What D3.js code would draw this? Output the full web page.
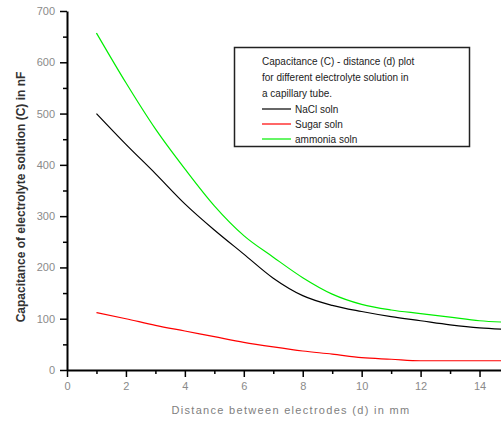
<!DOCTYPE html>
<html>
<head>
<meta charset="utf-8">
<script src="https://cdn.jsdelivr.net/npm/d3@7"></script>
<style>
  html, body { margin: 0; padding: 0; background: #fff; }
  svg { display: block; overflow: hidden; }
  text { font-family: "Liberation Sans", Arial, sans-serif; }
</style>
</head>
<body>
<div id="chart"></div>
<script>
// distance (d) in mm
const distance = [1, 2, 3, 4, 5, 6, 7, 8, 9, 10, 11, 12, 13, 14, 15];
// capacitance in nF
const nacl    = [500, 440, 383, 324, 273, 226, 179, 145, 126, 114, 104, 96, 88, 82, 79];
const sugar   = [112, 100, 87, 76, 65, 54, 45, 37, 31, 24, 21, 18, 18, 18, 18];
const ammonia = [657, 560, 470, 392, 320, 262, 220, 180, 148, 128, 117, 110, 103, 96, 93];

const seriesNames = ["NaCl soln", "Sugar soln", "ammonia soln"];
const seriesColors = ["#000000", "#ff0000", "#00ee00"];
const legendTitle = ["Capacitance (C) - distance (d) plot",
                     "for different electrolyte solution in",
                     "a capillary tube."];

const xTicks = [0, 2, 4, 6, 8, 10, 12, 14];
const yTicks = [0, 100, 200, 300, 400, 500, 600, 700];

const width = 501, height = 421;
const margin = {top: 11, left: 67, bottom: 51};

const svg = d3.select("#chart").append("svg")
    .attr("width", width)
    .attr("height", height);

// the plot runs to d = 15, a bit past the right edge of the picture
const x = d3.scaleLinear().domain([0, 15]).range([margin.left, 509]);
const y = d3.scaleLinear().domain([0, 700]).range([height - margin.bottom, margin.top]);

const line = d3.line()
    .x(d => x(d[0]))
    .y(d => y(d[1]))
    .curve(d3.curveMonotoneX);

const allSeries = [nacl, sugar, ammonia];

svg.append("g")
  .selectAll("path")
  .data(allSeries)
  .enter().append("path")
    .attr("d", vals => line(vals.map((v, i) => [distance[i], v])))
    .attr("fill", "none")
    .attr("stroke", (d, i) => seriesColors[i])
    .attr("stroke-width", 1.2);

// minor ticks
svg.append("g")
    .attr("transform", `translate(0,${y(0)})`)
    .call(d3.axisBottom(x).tickValues(d3.range(1, 16, 2)).tickSize(4).tickFormat(""))
    .call(g => g.select(".domain").remove())
    .call(g => g.selectAll("line").attr("stroke-width", 1.5));

svg.append("g")
    .attr("transform", `translate(${x(0)},0)`)
    .call(d3.axisLeft(y).tickValues(d3.range(50, 700, 100)).tickSize(4).tickFormat(""))
    .call(g => g.select(".domain").remove())
    .call(g => g.selectAll("line").attr("stroke-width", 1.5));

// major axes
const xAxis = svg.append("g")
    .attr("transform", `translate(0,${y(0)})`)
    .call(d3.axisBottom(x).tickValues(xTicks).tickSize(7).tickPadding(5).tickSizeOuter(0));

const yAxis = svg.append("g")
    .attr("transform", `translate(${x(0)},0)`)
    .call(d3.axisLeft(y).tickValues(yTicks).tickSize(7).tickPadding(5).tickSizeOuter(0));

[xAxis, yAxis].forEach(g => {
    g.select(".domain").attr("stroke-width", 2);
    g.selectAll("line").attr("stroke-width", 1.5);
    g.selectAll("text")
        .attr("fill", "#8a8a8a")
        .style("font-size", "11px")
        .style("font-family", "Liberation Sans, Arial, sans-serif");
});

// axis titles
svg.append("text")
    .attr("x", 291)
    .attr("y", 414)
    .attr("text-anchor", "middle")
    .attr("fill", "#808080")
    .style("font-size", "11px")
    .style("letter-spacing", "1.3px")
    .text("Distance between electrodes (d) in mm");

svg.append("text")
    .attr("transform", "translate(25,197) rotate(-90)")
    .attr("text-anchor", "middle")
    .attr("fill", "#333")
    .attr("font-weight", "bold")
    .style("font-size", "12px")
    .text("Capacitance of electrolyte solution (C) in nF");

// legend
const legend = svg.append("g");

legend.append("rect")
    .attr("x", 234.5)
    .attr("y", 47.5)
    .attr("width", 235)
    .attr("height", 99)
    .attr("fill", "#fff")
    .attr("stroke", "#222")
    .attr("stroke-width", 1.5);

legend.selectAll(".title")
  .data(legendTitle)
  .enter().append("text")
    .attr("class", "title")
    .attr("x", 262)
    .attr("y", (d, i) => 65 + i * 16)
    .attr("fill", "#222")
    .style("font-size", "10px")
    .text(d => d);

const items = legend.selectAll(".item")
  .data(seriesNames)
  .enter().append("g")
    .attr("class", "item")
    .attr("transform", (d, i) => `translate(0,${109 + i * 15})`);

items.append("line")
    .attr("x1", 262)
    .attr("x2", 291)
    .attr("stroke", (d, i) => seriesColors[i])
    .attr("stroke-width", 1.2);

items.append("text")
    .attr("x", 295)
    .attr("y", 3.5)
    .attr("fill", "#222")
    .style("font-size", "10px")
    .text(d => d);
</script>
</body>
</html>
